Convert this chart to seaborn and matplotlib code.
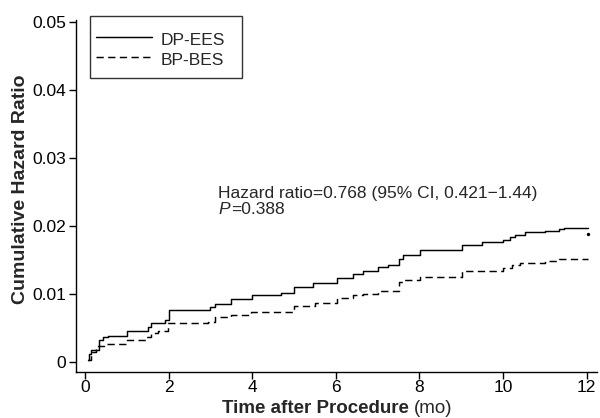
import numpy as np
import pandas as pd
import matplotlib
matplotlib.use("Agg")
import matplotlib.pyplot as plt
from matplotlib.patches import Rectangle
import seaborn as sns

# ---- data ----
t_dp = [0.07, 0.10, 0.15, 0.33, 0.43, 0.55, 1.01, 1.51, 1.59, 1.92, 2.0, 2.99, 3.1, 3.5,
        4.0, 4.7, 5.0, 5.46, 6.02, 6.42, 6.66, 7.02, 7.26, 7.51, 7.62, 8.02, 9.01, 9.51,
        10.01, 10.17, 10.29, 10.53, 11.01, 11.33, 11.45, 12.03]
h_dp = [0.0003, 0.0012, 0.0018, 0.0032, 0.0037, 0.0038, 0.0045, 0.0052, 0.0057, 0.0062,
        0.0077, 0.0081, 0.0085, 0.0092, 0.0098, 0.0101, 0.0110, 0.0116, 0.0123, 0.0130,
        0.0134, 0.0139, 0.0143, 0.0151, 0.0157, 0.0164, 0.0172, 0.0176, 0.0179, 0.0183,
        0.0187, 0.0191, 0.0193, 0.0196, 0.0197, 0.0197]
t_bp = [0.07, 0.15, 0.27, 0.47, 1.01, 1.47, 1.59, 1.75, 1.99, 2.95, 3.1, 3.5, 3.98, 5.0,
        5.5, 6.02, 6.42, 6.66, 7.02, 7.51, 7.62, 8.02, 9.01, 9.5, 10.01, 10.21, 10.41,
        11.01, 11.33, 12.03]
h_bp = [0.0003, 0.0015, 0.0023, 0.0027, 0.0032, 0.0037, 0.0042, 0.0046, 0.0058, 0.0059,
        0.0066, 0.0069, 0.0074, 0.0082, 0.0087, 0.0094, 0.0099, 0.0100, 0.0105, 0.0117,
        0.0121, 0.0125, 0.0133, 0.0134, 0.0138, 0.0143, 0.0146, 0.0148, 0.0151, 0.0151]
groups = ["DP-EES", "BP-BES"]
censor_t = [12.03]
censor_h = [0.0188]
x_ticks = [0, 2, 4, 6, 8, 10, 12]
y_ticks = [0, 0.01, 0.02, 0.03, 0.04, 0.05]
y_tick_labels = ["0", "0.01", "0.02", "0.03", "0.04", "0.05"]

df = pd.DataFrame({
    "t": t_dp + t_bp,
    "h": h_dp + h_bp,
    "group": [groups[0]] * len(t_dp) + [groups[1]] * len(t_bp),
})

sns.set_style("ticks")
plt.rcParams["font.family"] = ["Liberation Sans", "DejaVu Sans"]
FS = 12.5

fig = plt.figure(figsize=(6.0, 4.18), dpi=100)
AX_L, AX_R, AX_T, AX_B = 76, 597, 20, 372
ax = fig.add_axes([AX_L / 600, (418 - AX_B) / 418, (AX_R - AX_L) / 600, (AX_B - AX_T) / 418])

def ax_xy(px, py):
    return ((px - AX_L) / (AX_R - AX_L), (AX_B - py) / (AX_B - AX_T))

sns.lineplot(data=df, x="t", y="h", style="group", style_order=groups,
             dashes={"DP-EES": "", "BP-BES": (5, 3)}, color="black",
             drawstyle="steps-post", linewidth=1.05, estimator=None, sort=True,
             ax=ax, legend=True)
ax.scatter(censor_t, censor_h, s=2, color="black", zorder=3)

ax.set_xlim(-0.215, 12.25)
ax.set_ylim(-0.00147, 0.05025)
ax.set_xticks(x_ticks)
ax.set_xticklabels([str(v) for v in x_ticks])
ax.set_yticks(y_ticks)
ax.set_yticklabels(y_tick_labels)
ax.tick_params(axis="both", labelsize=FS, length=5, width=1, color="black",
               labelcolor="black", direction="out")
ax.tick_params(axis="x", pad=1)
ax.tick_params(axis="y", pad=2)
for s in ["left", "bottom"]:
    ax.spines[s].set_linewidth(1.0)
    ax.spines[s].set_color("black")
sns.despine(ax=ax)
ax.set_xlabel("")
ax.set_ylabel("")

# axis labels
fig.text(21 / 600, 1 - 189 / 418, "Cumulative Hazard Ratio", rotation=90,
         ha="center", va="center", fontsize=14, fontweight="bold")
t1 = fig.text(222 / 600, 1 - 413 / 418, "Time after Procedure", ha="left",
              va="baseline", fontsize=13.5, fontweight="bold")
ax.annotate("(mo)", xy=(1, 0), xycoords=t1, xytext=(3.5, 0), textcoords="offset points",
            ha="left", va="bottom", fontsize=13.5)

# annotation
ax.text(3.19, 0.02412, "Hazard ratio=0.768 (95% CI, 0.421\u22121.44)",
        fontsize=FS, va="baseline", ha="left")
ptxt = ax.text(3.19, 0.02176, "P", fontsize=FS, va="baseline", ha="left",
               style="italic")
ax.annotate("=0.388", xy=(1, 0), xycoords=ptxt, xytext=(0.5, 0),
            textcoords="offset points", ha="left", va="bottom", fontsize=FS)

# legend (frame drawn as a plain rectangle)
handles, labels = ax.get_legend_handles_labels()
leg = ax.legend(handles, labels, loc="upper left",
                bbox_to_anchor=ax_xy(96, 30), borderaxespad=0, borderpad=0,
                fontsize=FS, handlelength=3.2, handleheight=1.2, handletextpad=0.5,
                labelspacing=0.12, frameon=False)
x0, y0 = ax_xy(90, 78)
x1, y1 = ax_xy(242, 16)
ax.add_patch(Rectangle((x0, y0), x1 - x0, y1 - y0, transform=ax.transAxes,
                       fill=False, edgecolor="#333333", linewidth=1.0,
                       clip_on=False, zorder=5))

fig.savefig("out.png", dpi=100)
